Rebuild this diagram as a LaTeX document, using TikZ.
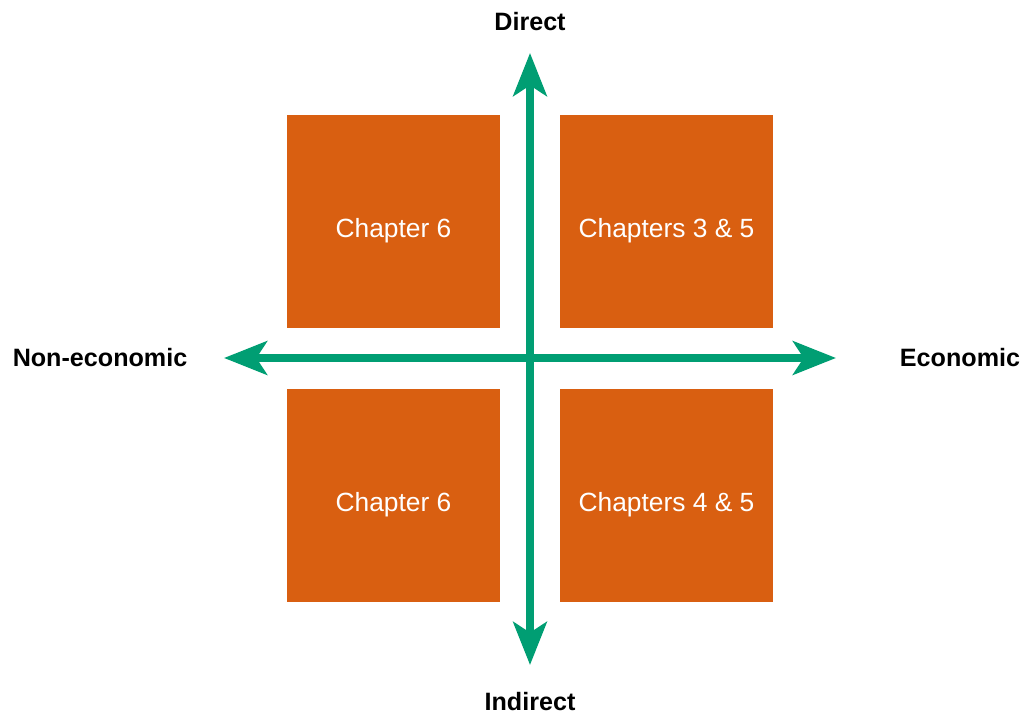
\documentclass[tikz,border=0pt]{standalone}
\usepackage{fontspec}
\setmainfont{Liberation Sans}
\usetikzlibrary{arrows.meta}
\definecolor{chapterorange}{RGB}{217,95,17}
\definecolor{axisgreen}{RGB}{0,158,115}
\newcommand*{\BoxSize}{4.26cm}
\newcommand*{\PlaceBoxes}[1]{% #1 = list of x/y/name/text
  \foreach \x/\y/\name/\txt in {#1} {
    \node [chapter] (\name) at (\x,\y) {\txt};
    }%
}
\tikzset{
  chapter/.style={fill=chapterorange, draw=none, minimum size=\BoxSize,
    inner sep=0pt, text=white, text height=18pt, text depth=0pt,
    font=\fontsize{15}{18}\selectfont},
  axislabel/.style={font=\fontsize{14.3}{17}\selectfont\bfseries},
  axis/.style={draw=axisgreen, line width=4.5pt,
    {Stealth[length=24.4pt, width=19pt, inset=6pt]}-{Stealth[length=24.4pt, width=19pt, inset=6pt]}}
}
\begin{document}
\begin{tikzpicture}[x=0.02cm,y=-0.02cm]
        \useasboundingbox (0,0) rectangle (1024,715);
        % quadrants
        \PlaceBoxes{393.5/221.5/dirnon/Chapter 6, 666.5/221.5/direco/Chapters 3 \& 5,
          393.5/495.5/indnon/Chapter 6, 666.5/495.5/indeco/Chapters 4 \& 5}
        % axis labels
        \node[axislabel] (direct) at (530,22) {Direct};
        \node[axislabel] (indirect) at (530,702) {Indirect};
        \node[axislabel] (noneco) at (100,358) {Non-economic};
        \node[axislabel] (eco) at (960,358) {Economic};
        % axes
        \coordinate (top) at (530,53);
        \coordinate (bottom) at (530,665);
        \coordinate (left) at (224,358);
        \coordinate (right) at (836,358);
        \draw[axis] (left) -- (right);
        \draw[axis] (bottom) -- (top);
    \end{tikzpicture}
\end{document}
